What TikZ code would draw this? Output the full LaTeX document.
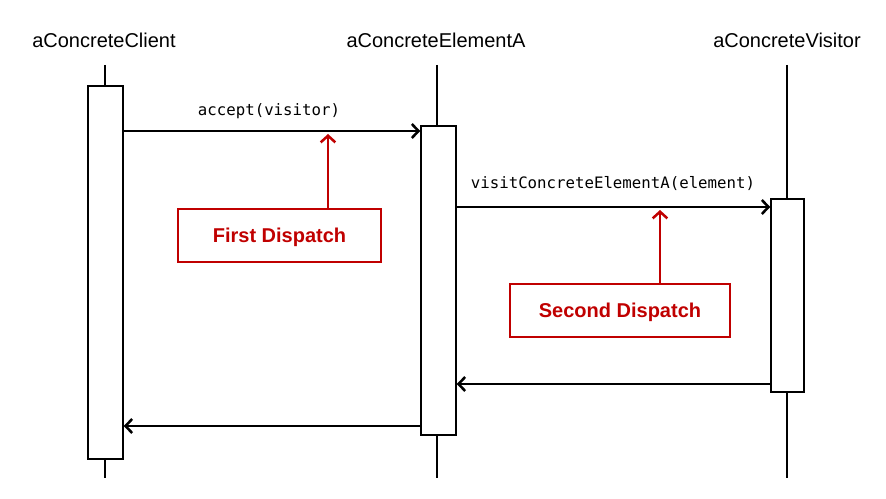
\documentclass[tikz,border=0pt]{standalone}
\usepackage{fontspec}
\setmainfont{Liberation Sans}
\setmonofont{DejaVu Sans Mono}
\usetikzlibrary{arrows.meta,positioning}
\definecolor{dispatchred}{RGB}{192,0,0}

\begin{document}
\begin{tikzpicture}
    [x=0.75pt, y=-0.75pt,
    every node/.style={inner sep=0pt},
    head/.style={font=\fontsize{15}{18}\selectfont},
    lifeline/.style={line width=1.8pt},
    activation/.style={draw, fill=white, line width=1.1pt, minimum width=26.25pt},
    msg/.style={line width=1.9pt, -{Straight Barb[length=5pt, width=10.5pt]}},
    call/.style={font=\ttfamily\fontsize{11.8}{14}\selectfont},
    dispatch/.style={draw=dispatchred, line width=1.5pt, text=dispatchred,
        font=\bfseries\fontsize{15}{18}\selectfont,
        minimum height=39.75pt, text depth=0pt},
    pointer/.style={dispatchred, line width=1.9pt, -{Straight Barb[length=5pt, width=11pt]}}
    ]
    \useasboundingbox (0,0) rectangle (886,499);

    \node[head] (client) at (104,40) {aConcreteClient};
    \node[head] (elemA) at (436,40) {aConcreteElementA};
    \node[head] (visitor) at (787,40) {aConcreteVisitor};

    \draw[lifeline] (105,65) -- (105,478);
    \draw[lifeline] (437,65) -- (437,478);
    \draw[lifeline] (787,65) -- (787,478);

    \node[activation, minimum height=279.75pt] (actC) at (105.5,272.5) {};
    \node[activation, minimum height=231.75pt] (actA) at (438.5,280.5) {};
    \node[activation, minimum width=24.75pt, minimum height=144.75pt] (actV) at (787.5,295.5) {};

    \coordinate (m1) at (0,131);
    \coordinate (m2) at (0,207);
    \coordinate (r1) at (0,384);
    \coordinate (r2) at (0,426);

    \draw[msg] (actC.east |- m1) -- (actA.west |- m1);
    \node[call] (acceptlbl) at (269,111) {accept(visitor)};
    \draw[msg] (actA.east |- m2) -- (actV.west |- m2);
    \node[call] (visitlbl) at (613,184) {visitConcreteElementA(element)};
    \draw[msg] (actV.west |- r1) -- (actA.east |- r1);
    \draw[msg] (actA.west |- r2) -- (actC.east |- r2);

    \node[dispatch, minimum width=152.25pt] (first) at (279.5,235.5) {First Dispatch};
    \node[dispatch, minimum width=165pt] (second) at (620,310.5) {Second Dispatch};
    \coordinate (tip1) at (328,134);
    \coordinate (tip2) at (660,210);
    \draw[pointer] (first.north -| tip1) -- (tip1);
    \draw[pointer] (second.north -| tip2) -- (tip2);
\end{tikzpicture}
\end{document}
